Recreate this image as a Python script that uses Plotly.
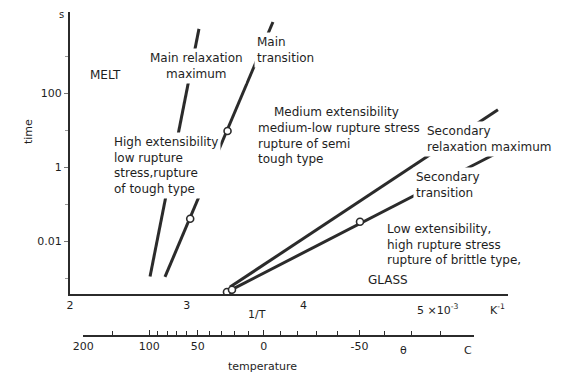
import plotly.graph_objects as go

# ---------------- data (1/T in 10^-3 K^-1, time in s) ----------------
main_relax_x = [2.686, 3.105]
main_relax_t = [1.1e-3, 5.4e3]

main_trans_x = [2.814, 3.739]
main_trans_t = [1.07e-3, 8.3e3]
main_trans_pts_x = [3.03, 3.35]
main_trans_pts_t = [0.04, 9.4]

sec_relax_x = [3.371, 5.667]
sec_relax_t = [5.7e-4, 35.0]

sec_trans_x = [3.414, 5.642]
sec_trans_t = [5.4e-4, 2.25]
sec_pts_x = [3.345, 3.388, 4.485]
sec_pts_t = [4.2e-4, 4.8e-4, 0.033]

x_ticks = [2, 3, 4]
y_tick_vals = [1e-2, 1, 100]
y_tick_text = ["0.01", "1", "100"]
y_minor_vals = [1e-3, 1e-1, 10, 1e3]

temp_major = [200, 100, 50, 0, -50]
temp_minor = [150, 90, 80, 70, 60, 40, 30, 20, 10, -10, -20, -30, -40,
              -60, -70, -80, -90]
temp_start, temp_end = 200, -90

# ---------------- layout geometry ----------------
W, H = 562, 379
PL, PR, PT, PB = 70, 508, 12, 335      # plot area in pixels
AXIS_PX = 294                          # main x-axis line position
X0 = 2.0
PX_PER_UNIT = 116.7
X1 = X0 + (PR - PL) / PX_PER_UNIT
Y_LOG_RANGE = [(167 - AXIS_PX) / 37.0, (167 - PT) / 37.0]


def fx(p):
    return (p - PL) / (PR - PL)


def fy(p):
    return (PB - p) / (PB - PT)


def inv_t(c):
    return 1000.0 / (c + 273.15)


INK = "#1e1e1e"
LINE = "#2b2b2b"
FONT = "DejaVu Sans"

fig = go.Figure()

line_style = dict(color=LINE, width=3)
for xs, ts in [(main_relax_x, main_relax_t), (main_trans_x, main_trans_t),
               (sec_relax_x, sec_relax_t), (sec_trans_x, sec_trans_t)]:
    fig.add_trace(go.Scatter(x=xs, y=ts, mode="lines", line=line_style,
                             hoverinfo="skip", showlegend=False))

circ = dict(symbol="circle", size=7, color="white",
            line=dict(color=LINE, width=1.6))
fig.add_trace(go.Scatter(x=main_trans_pts_x, y=main_trans_pts_t, mode="markers",
                         marker=circ, showlegend=False, hoverinfo="skip"))
fig.add_trace(go.Scatter(x=sec_pts_x, y=sec_pts_t, mode="markers",
                         marker=circ, showlegend=False, hoverinfo="skip"))

# dummy trace for the temperature axis
t_lo, t_hi = inv_t(temp_start), inv_t(temp_end)
fig.add_trace(go.Scatter(x=[t_lo], y=[0.5], xaxis="x2", yaxis="y2",
                         mode="markers", marker=dict(opacity=0),
                         showlegend=False, hoverinfo="skip"))

span = X1 - X0
main_dom_bottom = fy(AXIS_PX)

fig.update_layout(
    width=W, height=H,
    margin=dict(l=PL, r=W - PR, t=PT, b=H - PB),
    paper_bgcolor="white", plot_bgcolor="rgba(0,0,0,0)",
    font=dict(family=FONT, size=11, color=INK),
    showlegend=False,
    xaxis=dict(range=[X0, X1], domain=[0, 1], showline=True, linewidth=2,
               linecolor=LINE, showgrid=False, zeroline=False,
               tickvals=x_ticks, ticktext=[str(v) for v in x_ticks],
               ticks="", ticklen=0, anchor="y",
               tickfont=dict(size=11, color=INK)),
    yaxis=dict(type="log", range=Y_LOG_RANGE, domain=[main_dom_bottom, 1],
               showline=True, linewidth=2, linecolor=LINE, showgrid=False,
               zeroline=False, tickvals=y_tick_vals, ticktext=y_tick_text,
               ticks="outside", ticklen=4, tickwidth=1, tickcolor="#777",
               anchor="x", tickfont=dict(size=11, color=INK),
               minor=dict(tickvals=y_minor_vals, ticks="outside", ticklen=3,
                          tickwidth=1, tickcolor="#999", showgrid=False)),
    xaxis2=dict(range=[t_lo, t_hi],
                domain=[(t_lo - X0) / span, (t_hi - X0) / span],
                anchor="y2", showline=True, linewidth=2, linecolor=LINE,
                showgrid=False, zeroline=False,
                tickvals=[inv_t(c) for c in temp_major],
                ticktext=[str(c) for c in temp_major],
                ticks="inside", ticklen=5, tickwidth=1, tickcolor=LINE,
                tickfont=dict(size=11, color=INK),
                minor=dict(tickvals=[inv_t(c) for c in temp_minor],
                           ticks="inside", ticklen=4, tickwidth=1,
                           tickcolor=LINE, showgrid=False)),
    yaxis2=dict(domain=[0, 0.01], range=[0, 1], visible=False, anchor="x2"),
)

ann = []


def add_text(text, x, y, xanchor="center", align="center", bg=False,
             angle=0, size=12):
    d = dict(text=text, x=fx(x), y=fy(y), xref="paper", yref="paper",
             xanchor=xanchor, yanchor="middle", align=align, showarrow=False,
             textangle=angle, font=dict(family=FONT, size=size, color=INK))
    if bg:
        d.update(bgcolor="white", borderpad=2)
    ann.append(d)


add_text("s", 61, 15, size=10)
add_text("time", 28, 132, angle=-90, size=11)
add_text("MELT", 105, 75)
add_text("Main relaxation<br>maximum", 196, 66, bg=True)
add_text("Main<br>transition", 254, 50, xanchor="left", align="left", bg=True)
add_text("High extensibility<br>low rupture<br>stress,rupture<br>of tough type",
         111, 166, xanchor="left", align="left", bg=True)
add_text("Medium extensibility", 336, 112)
add_text("medium-low rupture stress<br>rupture of semi<br>tough type",
         256, 144, xanchor="left", align="left")
add_text("Secondary<br>relaxation maximum", 424, 139, xanchor="left",
         align="left", bg=True)
add_text("Secondary<br>transition", 413, 185, xanchor="left", align="left",
         bg=True)
add_text("Low extensibility,<br>high rupture stress<br>rupture of brittle type,",
         385, 244, xanchor="left", align="left")
add_text("GLASS", 388, 280)
add_text("1/T", 257, 314, size=11)
add_text("5 ×10<sup>-3</sup>", 415, 309, xanchor="left", size=11)
add_text("K<sup>-1</sup>", 497, 309, size=11)
add_text("θ", 403, 350, size=11)
add_text("C", 468, 351, size=11)
add_text("temperature", 262, 366, size=11)

fig.update_layout(annotations=ann)
fig.write_html("out.html")
